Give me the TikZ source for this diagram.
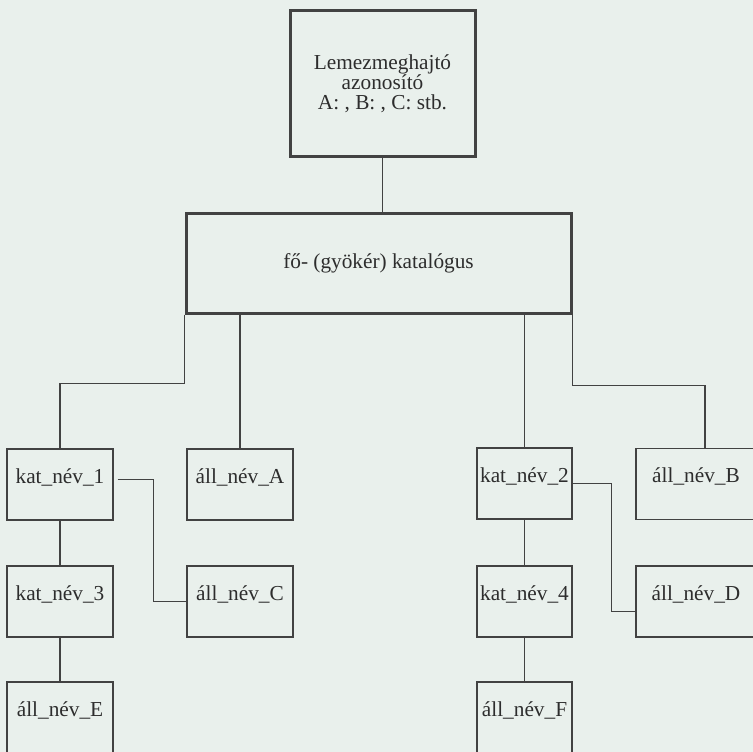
\documentclass[tikz,border=0pt]{standalone}
\usepackage{fontspec}
\setmainfont{Liberation Serif}
\usepackage{tikz}
\usetikzlibrary{calc}
\definecolor{paper}{RGB}{233,240,236}
\definecolor{ink}{RGB}{66,66,66}
\definecolor{lettering}{RGB}{45,45,45}

\begin{document}
\begin{tikzpicture}[x=1pt, y=-1pt, every node/.style={draw, rectangle, inner sep=0pt, text=lettering, font=\fontsize{21.3}{20}\selectfont}, color=ink, line width=1.3pt
]
 \tikzstyle{big}=[line width=3pt, align=center];
 \tikzstyle{small}=[text height=34pt, text depth=37pt, minimum width=106pt];
 \tikzstyle{narrow}=[small, minimum width=95pt];
\fill[paper] (0,0) rectangle (753,752);
\useasboundingbox (0,0) rectangle (753,752);
\clip (0,0) rectangle (753,752);

\node[big, minimum width=185pt, minimum height=145pt] (drive) at (382.5,83.5) {Lemezmeghajtó\\azonosító\\A: , B: , C: stb.};
\node[big, minimum width=385pt, minimum height=100pt] (root) at (378.5,263) {fő- (gyökér) katalógus};
\node[small] (kat1) at (60,484.5) {kat\_név\_1};
\node[small] (allA) at (240,484.5) {áll\_név\_A};
\node[narrow] (kat2) at (524.5,483.5) {kat\_név\_2};
\node[small, minimum width=120pt] (allB) at (696,484) {áll\_név\_B};
\node[small] (kat3) at (60,601.5) {kat\_név\_3};
\node[small] (allC) at (240,601.5) {áll\_név\_C};
\node[narrow] (kat4) at (524.5,601.5) {kat\_név\_4};
\node[small, minimum width=120pt] (allD) at (696,601.5) {áll\_név\_D};
\node[small] (allE) at (60,717.5) {áll\_név\_E};
\node[narrow] (allF) at (524.5,717.5) {áll\_név\_F};

\draw (drive.south) -- (drive.south |- root.north);
\draw (root.south west) -- ++(0,69) -| (kat1.north);
\draw (root.south -| allA.north) -- (allA.north);
\draw (root.south -| kat2.north) -- (kat2.north);
\draw (root.south east) -- ++(0,71) -| ([xshift=9pt]allB.north);
\draw ([shift={(4pt,5pt)}]kat1.east) -| ([xshift=-33pt]allC.west) -- (allC.west);
\draw (kat2.east) -| ([shift={(-24pt,-10pt)}]allD.west) -- ([yshift=-10pt]allD.west);
\draw (kat1.south) -- (kat3.north);
\draw (kat3.south) -- (allE.north);
\draw (kat2.south) -- (kat4.north);
\draw (kat4.south) -- (allF.north);

\end{tikzpicture}
\end{document}
